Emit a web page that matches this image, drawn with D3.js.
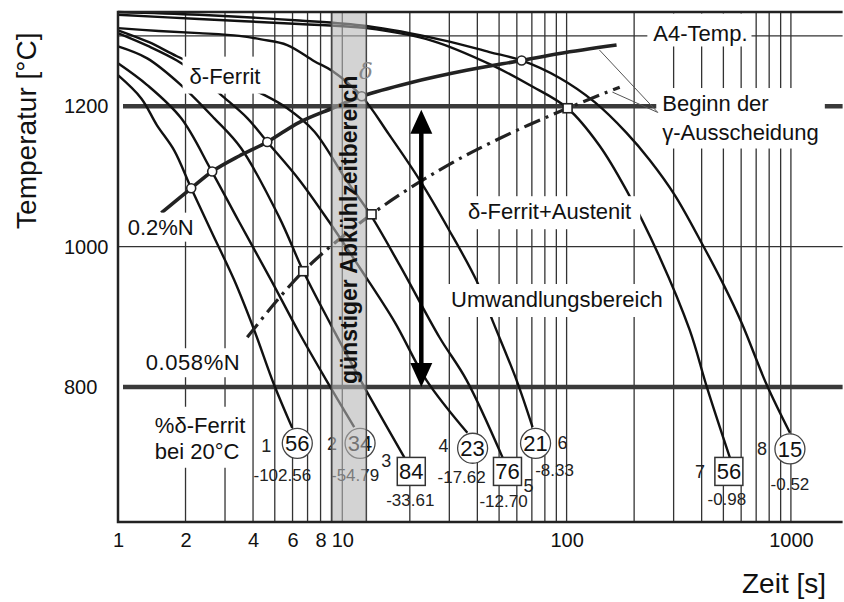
<!DOCTYPE html>
<html>
<head>
<meta charset="utf-8">
<script src="https://cdn.jsdelivr.net/npm/d3@7"></script>
<style>
  body { margin: 0; background: #fff; }
  svg { display: block; font-family: "Liberation Sans", Arial, Helvetica, sans-serif; }
</style>
</head>
<body>
<div id="chart"></div>
<script>
// ---- data: [time s, temperature °C] ----
const timeTicks = [1, 2, 4, 6, 8, 10, 100, 1000];
const tempTicks = [800, 1000, 1200];
const gridTimes = [2, 3, 4, 5, 6, 7, 8, 9, 10, 20, 30, 40, 50, 60, 70, 80, 90, 100,
                   200, 300, 400, 500, 600, 700, 800, 900, 1000];
const thinTemps = [1000];
const thickTemps = [1200, 800];
const a4Temp = 1300;

const curve1 = [[1.00,1244],[1.27,1211],[1.49,1173],[1.78,1137],[2.12,1083],[2.63,1019],[3.30,952],[4.05,881],[4.97,803],[5.98,742]];
const curve2 = [[1.00,1261],[1.35,1230],[1.91,1183],[2.60,1109],[3.47,1035],[4.82,952],[6.43,877],[8.48,810],[11.3,743]];
const curve3 = [[1.00,1285],[1.35,1268],[1.91,1230],[2.68,1183],[3.54,1140],[5.23,1042],[6.70,965],[8.75,893],[11.1,831],[12.9,793],[18.9,700]];
const curve4 = [[1.00,1304],[1.375,1285],[1.83,1265],[2.30,1243],[2.88,1216],[3.77,1183],[4.63,1149],[6.43,1095],[8.75,1035],[11.9,971],[17.1,893],[23.7,810],[36.1,735]];
const curve5 = [[1.00,1308],[1.375,1291],[1.83,1271],[2.88,1243],[4.48,1216],[5.68,1197],[7.50,1164],[10.4,1095],[13.2,1048],[18.0,974],[27.1,871],[35.8,810],[51.8,700]];
const curve6 = [[1.00,1311],[1.52,1307],[2.30,1304],[3.47,1300],[4.35,1295],[5.68,1287],[7.50,1264],[9.03,1250],[12.2,1214],[16.2,1159],[22.1,1095],[30.0,1023],[39.6,952],[46.7,895],[59.8,810],[70.5,743]];
const curve7 = [[1.00,1330],[2.30,1324],[6.43,1317],[12.8,1311],[25.2,1293],[46.7,1258],[68.4,1230],[101,1197],[140,1144],[185,1080],[260,985],[354,881],[422,800],[534,700]];
const curve8 = [[1.00,1334],[2.30,1330],[6.43,1322],[12.8,1314],[28.0,1294],[45.3,1277],[63.0,1265],[93.1,1240],[133,1206],[185,1162],[235,1123],[304,1073],[405,1002],[497,948],[604,891],[781,803],[990,735]];
const coolingCurves = [curve1, curve2, curve3, curve4, curve5, curve6, curve7, curve8];

// end of each cooling curve: marker, % delta ferrite, second value
const endPoints = [[6.30,720],[12.0,720],[20.3,680],[38.1,713],[54.5,680],[72.7,720],[529,680],[990,712]];
const endShapes = ['circle','circle','square','circle','square','circle','square','circle'];
const ferritePct = ['56','34','84','23','76','21','56','15'];
const endValues = ['-102.56','-54.79','-33.61','-17.62','-12.70','-8.33','-0.98','-0.52'];
const curveNames = ['1','2','3','4','5','6','7','8'];

// start of gamma precipitation
const n02Line = [[1.56,1048],[2.12,1083],[2.63,1107],[3.47,1129],[4.63,1149],[6.43,1177],[9.03,1197],[12.2,1214],[19.9,1233],[35.8,1251],[63.0,1265],[93.1,1275],[167,1287]];
const n02Marks = [[2.12,1083],[2.63,1107],[4.63,1149],[12.2,1214],[63.0,1265]];
const n0058Line = [[3.77,871],[6.70,965],[13.5,1046],[27.1,1109],[50.2,1154],[101,1197],[172.5,1227]];
const n0058Marks = [[6.70,965],[13.5,1046],[101,1197]];

const coolBand = [8.95, 12.8];
const arrowTime = 22.5;
const arrowTemps = [800, 1195];
const leaderFrom = [255, 1191];
const leaderTo = [[140, 1280], [160, 1220]];

// ---- layout ----
const W = 844, H = 602;
const x = d3.scaleLog().domain([1, 1700]).range([118, 842.6]);
const y = d3.scaleLinear().domain([608, 1334]).range([522, 12]);
const plotTop = y.range()[1], plotBottom = y.range()[0];
const plotLeft = x.range()[0], plotRight = x.range()[1];

const svg = d3.select('#chart').append('svg').attr('width', W).attr('height', H);

// grid
svg.append('g').selectAll('line').data(gridTimes).join('line')
  .attr('x1', d => x(d)).attr('x2', d => x(d))
  .attr('y1', plotTop).attr('y2', plotBottom)
  .attr('stroke', '#333').attr('stroke-width', 1.3);

svg.append('g').selectAll('line').data(thinTemps.concat([a4Temp])).join('line')
  .attr('x1', plotLeft).attr('x2', plotRight)
  .attr('y1', d => y(d)).attr('y2', d => y(d))
  .attr('stroke', '#333').attr('stroke-width', 1.3);

svg.append('g').selectAll('line').data(thickTemps).join('line')
  .attr('x1', plotLeft + 5).attr('x2', plotRight)
  .attr('y1', d => y(d)).attr('y2', d => y(d))
  .attr('stroke', '#3a3a3a').attr('stroke-width', 4.5);

// cooling curves
const line = d3.line()
  .x(d => x(d[0])).y(d => y(d[1]))
  .curve(d3.curveCatmullRom.alpha(0.5));

svg.append('g').selectAll('path').data(coolingCurves).join('path')
  .attr('d', line)
  .attr('fill', 'none').attr('stroke', '#111').attr('stroke-width', 2.4);

// precipitation lines
svg.append('path').datum(n02Line).attr('d', line)
  .attr('fill', 'none').attr('stroke', '#222').attr('stroke-width', 3.6);
svg.append('path').datum(n0058Line).attr('d', line)
  .attr('fill', 'none').attr('stroke', '#222').attr('stroke-width', 3.2)
  .attr('stroke-dasharray', '17,6,3,6');

svg.append('g').selectAll('circle').data(n02Marks).join('circle')
  .attr('cx', d => x(d[0])).attr('cy', d => y(d[1])).attr('r', 4.5)
  .attr('fill', '#fff').attr('stroke', '#222').attr('stroke-width', 1.6);
svg.append('g').selectAll('rect').data(n0058Marks).join('rect')
  .attr('x', d => x(d[0]) - 4.5).attr('y', d => y(d[1]) - 4.5)
  .attr('width', 9).attr('height', 9)
  .attr('fill', '#fff').attr('stroke', '#222').attr('stroke-width', 1.6);

// boxed labels
const labels = [
  {lines: ['δ-Ferrit'], t: 3.0, T: 1243, pad: [7, 7, 7, 5]},
  {lines: ['0.2%N'], t: 1.55, T: 1028, pad: [3, 2, 3, 2]},
  {lines: ['0.058%N'], t: 2.16, T: 835, pad: [3, 2, 3, 2], spacing: 0.6},
  {lines: ['%δ-Ferrit', 'bei 20°C'], t: 1.46, T: 746, anchor: 'start', gap: 26, pad: [5, 6, 5, 4]},
  {lines: ['δ-Ferrit+Austenit'], t: 84, T: 1050, pad: [7, 3, 9, 5]},
  {lines: ['Umwandlungsbereich'], t: 90.5, T: 925, pad: [5, 3, 5, 5]},
  {lines: ['A4-Temp.'], t: 395, T: 1303, pad: [6, 8, 4, 0]},
  {lines: ['Beginn der', 'γ-Ausscheidung'], t: 267, T: 1204, anchor: 'start', gap: 28.5, pad: [6, 3, 6, 4]}
];

labels.forEach(cfg => {
  const g = svg.append('g');
  const box = g.append('rect').attr('fill', '#fff');
  const px = x(cfg.t), py = y(cfg.T);
  const txt = g.append('text')
    .attr('font-size', 22)
    .attr('letter-spacing', cfg.spacing || 0)
    .attr('text-anchor', cfg.anchor || 'middle')
    .attr('fill', '#111');
  cfg.lines.forEach((s, i) => {
    txt.append('tspan').attr('x', px).attr('y', py + i * (cfg.gap || 0))
      .attr('dy', '0.35em').text(s);
  });
  const b = txt.node().getBBox();
  const [pl, pt, pr, pb] = cfg.pad;
  box.attr('x', b.x - pl).attr('y', b.y - pt)
    .attr('width', b.width + pl + pr).attr('height', b.height + pt + pb);
});

// leader lines to "Beginn der γ-Ausscheidung"
svg.append('g').selectAll('line').data(leaderTo).join('line')
  .attr('x1', x(leaderFrom[0])).attr('y1', y(leaderFrom[1]))
  .attr('x2', d => x(d[0])).attr('y2', d => y(d[1]))
  .attr('stroke', '#555').attr('stroke-width', 1);

// double arrow
const ax = x(arrowTime), aTop = y(arrowTemps[1]), aBot = y(arrowTemps[0]);
svg.append('line').attr('x1', ax).attr('x2', ax).attr('y1', aTop + 20).attr('y2', aBot - 20)
  .attr('stroke', '#000').attr('stroke-width', 4.5);
svg.append('path').attr('d', `M${ax},${aTop} l-11,24 l22,0 z`).attr('fill', '#000');
svg.append('path').attr('d', `M${ax},${aBot} l-11,-24 l22,0 z`).attr('fill', '#000');

// end markers
const indexOffset = [[-31,2],[-28,0],[-25,-11],[-29,-3],[21,14],[27,-1],[-29,0],[-28,0]];
const valueOffset = [[-15,32],[-5,32],[-1,29],[-11,29],[-4,30],[19,27],[-2,28],[0,35]];

const ends = svg.append('g').selectAll('g').data(endPoints).join('g')
  .attr('transform', d => `translate(${x(d[0])},${y(d[1])})`);
ends.each(function(d, i) {
  const g = d3.select(this);
  if (endShapes[i] === 'circle') {
    g.append('circle').attr('r', 15).attr('fill', '#fff').attr('stroke', '#444').attr('stroke-width', 1.3);
  } else {
    g.append('rect').attr('x', -14).attr('y', -14).attr('width', 28).attr('height', 28)
      .attr('fill', '#fff').attr('stroke', '#333').attr('stroke-width', 1.5);
  }
  g.append('text').attr('text-anchor', 'middle').attr('dy', '0.36em')
    .attr('font-size', 22).attr('fill', '#111').text(ferritePct[i]);
  g.append('text').attr('text-anchor', 'middle').attr('dy', '0.35em')
    .attr('x', indexOffset[i][0]).attr('y', indexOffset[i][1])
    .attr('font-size', 18).attr('fill', '#222').text(curveNames[i]);
  g.append('text').attr('text-anchor', 'middle').attr('dy', '0.35em')
    .attr('x', valueOffset[i][0]).attr('y', valueOffset[i][1])
    .attr('font-size', 17).attr('fill', '#222').text(endValues[i]);
});

// favourable cooling time band
const bx0 = x(coolBand[0]), bx1 = x(coolBand[1]);
svg.append('rect')
  .attr('x', bx0).attr('y', plotTop).attr('width', bx1 - bx0).attr('height', plotBottom - plotTop)
  .attr('fill', '#b5b5b5').attr('fill-opacity', 0.6)
  .attr('stroke', '#444').attr('stroke-width', 1.5);
svg.append('text')
  .attr('transform', `translate(${(bx0 + bx1) / 2 + 8.5},${y(1024)}) rotate(-90)`)
  .attr('text-anchor', 'middle').attr('font-size', 23).attr('font-weight', 'bold')
  .attr('fill', '#111').text('günstiger Abkühlzeitbereich');
svg.append('text')
  .attr('x', x(12.75)).attr('y', y(1250)).attr('dy', '0.35em')
  .attr('text-anchor', 'middle').attr('font-family', '"DejaVu Serif", serif')
  .attr('font-style', 'italic').attr('font-size', 23).attr('fill', '#888').text('δ');

// frame
svg.append('path')
  .attr('d', `M${plotRight},${plotTop} H${plotLeft} V${plotBottom} H${plotRight}`)
  .attr('fill', 'none').attr('stroke', '#222').attr('stroke-width', 2.5);

// axes
const xAxis = svg.append('g').attr('transform', `translate(0,${plotBottom})`)
  .call(d3.axisBottom(x).tickValues(timeTicks).tickFormat(d3.format('d')).tickSize(0).tickPadding(11));
xAxis.select('.domain').remove();
xAxis.selectAll('text').attr('font-size', 20).attr('fill', '#111').attr('font-family', null);

const yAxis = svg.append('g').attr('transform', `translate(${plotLeft},0)`)
  .call(d3.axisLeft(y).tickValues(tempTicks).tickFormat(d3.format('d')).tickSize(0));
yAxis.select('.domain').remove();
yAxis.selectAll('text').attr('font-size', 20).attr('fill', '#111').attr('font-family', null)
  .attr('text-anchor', 'start').attr('x', -54);

svg.append('text')
  .attr('transform', `translate(36,${y(1165)}) rotate(-90)`)
  .attr('text-anchor', 'middle').attr('font-size', 28).attr('fill', '#111')
  .text('Temperatur [°C]');
svg.append('text')
  .attr('x', 742).attr('y', 593)
  .attr('font-size', 28).attr('fill', '#111')
  .text('Zeit [s]');
</script>
</body>
</html>
